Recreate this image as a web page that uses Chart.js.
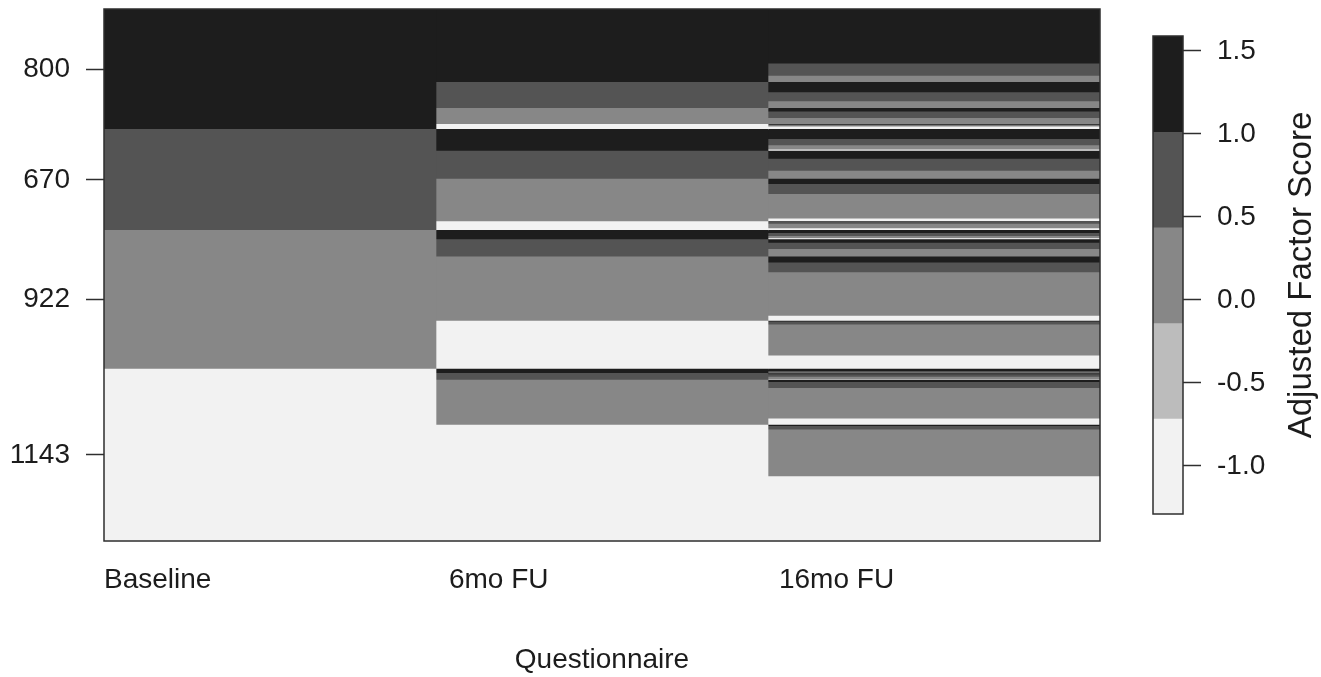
<!DOCTYPE html>
<html>
<head>
<meta charset="utf-8">
<title>Adjusted factor score by questionnaire</title>
<script src="https://cdn.jsdelivr.net/npm/chart.js@4.4.1/dist/chart.umd.min.js"></script>
<style>
  html, body { margin: 0; padding: 0; background: #ffffff; }
  #wrap { position: relative; width: 1321px; height: 677px; overflow: hidden; }
  #heat { position: absolute; left: 0; top: 0; }
  #key { position: absolute; left: 1110px; top: 0; }
</style>
</head>
<body>
<div id="wrap">
  <canvas id="heat" width="1321" height="677"></canvas>
  <canvas id="key" width="211" height="677"></canvas>
</div>
<script>
// Questionnaire waves, one column each
const questionnaires = ['Baseline', '6mo FU', '16mo FU'];

// Representative adjusted factor score of the four response levels (highest first)
const levelScores = [1.30, 0.72, 0.15, -1.00];

// Colour key: interval breaks of the score and the grey used for each interval (low to high)
const scoreBreaks = [-1.29, -0.714, -0.138, 0.438, 1.014, 1.59];
const scoreGreys = ['#f2f2f2', '#bcbcbc', '#878787', '#545454', '#1d1d1d'];
const keyTicks = [-1.0, -0.5, 0.0, 0.5, 1.0, 1.5];

// Participants in each baseline level (also the y tick labels)
const baselineCounts = [800, 670, 922, 1143];

// Each baseline group split by its 6-month level (highest level first)
const sixMonthCounts = [
  [487, 173, 107, 33],
  [144, 186, 283, 57],
  [62, 114, 427, 319],
  [30, 43, 299, 771]
];

// Each 6-month subgroup split by its 16-month level (highest level first)
const sixteenMonthCounts = [
  [365, 80, 42, 0],
  [69, 60, 44, 0],
  [23, 44, 40, 0],
  [3, 5, 8, 17],
  [66, 42, 28, 8],
  [53, 80, 53, 0],
  [35, 66, 164, 18],
  [4, 12, 30, 11],
  [20, 20, 15, 7],
  [23, 42, 49, 0],
  [40, 66, 288, 33],
  [5, 20, 206, 88],
  [17, 8, 5, 0],
  [7, 17, 16, 3],
  [17, 38, 204, 40],
  [10, 23, 310, 428]
];

const FONT = '"Liberation Sans", Arial, Helvetica, sans-serif';
const INK = '#1c1c1c';
const LINE = '#2e2e2e';

function greyFor(score) {
  for (let i = 0; i < scoreGreys.length; i++) {
    if (score <= scoreBreaks[i + 1]) return scoreGreys[i];
  }
  return scoreGreys[scoreGreys.length - 1];
}

// Turn a list of [count, level] pieces into stacked floating bars for one column
function columnBars(column, pieces) {
  const bars = [];
  let start = 0;
  pieces.forEach(([count, level]) => {
    if (count > 0) {
      bars.push({ x: column + 0.5, y: [start, start + count], score: levelScores[level] });
    }
    start += count;
  });
  return bars;
}

const baselinePieces = baselineCounts.map((n, level) => [n, level]);
const sixMonthPieces = sixMonthCounts.flatMap(group => group.map((n, level) => [n, level]));
const sixteenMonthPieces = sixteenMonthCounts.flatMap(group => group.map((n, level) => [n, level]));
const columns = [
  columnBars(0, baselinePieces),
  columnBars(1, sixMonthPieces),
  columnBars(2, sixteenMonthPieces)
];

const participants = baselineCounts.reduce((a, b) => a + b, 0);
const baselineMidpoints = [];
baselineCounts.reduce((start, n) => { baselineMidpoints.push(start + n / 2); return start + n; }, 0);

// Outline drawn round the plotting area
const framePlugin = {
  id: 'frame',
  afterDatasetsDraw(chart, args, opts) {
    const { ctx, chartArea: a } = chart;
    ctx.save();
    ctx.strokeStyle = opts.color || LINE;
    ctx.lineWidth = opts.width || 1.5;
    ctx.strokeRect(a.left, a.top, a.right - a.left, a.bottom - a.top);
    ctx.restore();
  }
};

// Vertical caption read bottom-to-top beside the colour key
const sideCaptionPlugin = {
  id: 'sideCaption',
  afterDraw(chart, args, opts) {
    const { ctx, chartArea: a } = chart;
    ctx.save();
    ctx.translate(opts.x, (a.top + a.bottom) / 2);
    ctx.rotate(-Math.PI / 2);
    ctx.font = `${opts.size}px ${FONT}`;
    ctx.fillStyle = INK;
    ctx.textAlign = 'center';
    ctx.textBaseline = 'middle';
    ctx.fillText(opts.text, 0, 0);
    ctx.restore();
  }
};

// Where each questionnaire name starts along the column axis
const labelAnchors = [0.0, 1.039, 2.033];

new Chart(document.getElementById('heat'), {
  type: 'bar',
  data: {
    datasets: questionnaires.map((name, i) => ({
      label: name,
      data: columns[i],
      grouped: false,
      barPercentage: 1,
      categoryPercentage: 1,
      borderWidth: 0,
      backgroundColor: c => greyFor(c.raw.score)
    }))
  },
  options: {
    responsive: false,
    animation: false,
    events: [],
    layout: { padding: { top: 9, right: 221, left: 0, bottom: 0 } },
    plugins: {
      legend: { display: false },
      tooltip: { enabled: false },
      frame: { color: LINE, width: 1.5 }
    },
    scales: {
      x: {
        type: 'linear',
        offset: false,
        min: 0,
        max: questionnaires.length,
        display: false,
        ticks: { stepSize: 1 }
      },
      xl: {
        type: 'linear',
        offset: false,
        position: 'bottom',
        min: 0,
        max: questionnaires.length,
        afterBuildTicks: s => { s.ticks = labelAnchors.map(v => ({ value: v })); },
        grid: { display: false, offset: false },
        border: { display: false },
        ticks: {
          align: 'start',
          autoSkip: false,
          maxRotation: 0,
          padding: 14,
          color: INK,
          font: { family: FONT, size: 28 },
          callback: (v, i) => questionnaires[i]
        },
        title: {
          display: true,
          text: 'Questionnaire',
          color: INK,
          font: { family: FONT, size: 28 },
          padding: { top: 0, bottom: 0 }
        },
        afterFit: s => { s.height = 136; s.paddingLeft = 0; s.paddingRight = 0; }
      },
      y: {
        type: 'linear',
        reverse: true,
        min: 0,
        max: participants,
        afterBuildTicks: s => { s.ticks = baselineMidpoints.map(v => ({ value: v })); },
        grid: { drawOnChartArea: false, drawTicks: true, tickLength: 18, tickColor: LINE, tickWidth: 1.5 },
        border: { display: false },
        ticks: {
          autoSkip: false,
          padding: 16,
          color: INK,
          font: { family: FONT, size: 28 },
          callback: (v, i) => String(baselineCounts[i])
        },
        afterFit: s => { s.width = 104; s.paddingTop = 0; s.paddingBottom = 0; }
      }
    }
  },
  plugins: [framePlugin]
});

// Colour key for the adjusted factor score
new Chart(document.getElementById('key'), {
  type: 'bar',
  data: {
    datasets: [{
      label: 'Adjusted Factor Score',
      data: scoreGreys.map((g, i) => ({ x: 0.5, y: [scoreBreaks[i], scoreBreaks[i + 1]] })),
      backgroundColor: scoreGreys,
      grouped: false,
      barPercentage: 1,
      categoryPercentage: 1,
      borderWidth: 0
    }]
  },
  options: {
    responsive: false,
    animation: false,
    events: [],
    layout: { padding: { top: 36, right: 0, left: 43, bottom: 163 } },
    plugins: {
      legend: { display: false },
      tooltip: { enabled: false },
      frame: { color: LINE, width: 1.5 },
      sideCaption: { text: 'Adjusted Factor Score', size: 33, x: 192 }
    },
    scales: {
      x: { type: 'linear', offset: false, min: 0, max: 1, display: false, ticks: { stepSize: 1 } },
      y: {
        type: 'linear',
        position: 'right',
        min: scoreBreaks[0],
        max: scoreBreaks[scoreBreaks.length - 1],
        afterBuildTicks: s => { s.ticks = keyTicks.map(v => ({ value: v })); },
        grid: { drawOnChartArea: false, drawTicks: true, tickLength: 18, tickColor: LINE, tickWidth: 1.5 },
        border: { display: false },
        ticks: {
          autoSkip: false,
          padding: 16,
          color: INK,
          font: { family: FONT, size: 28 },
          callback: v => v.toFixed(1)
        },
        afterFit: s => { s.width = 138; s.paddingTop = 0; s.paddingBottom = 0; }
      }
    }
  },
  plugins: [framePlugin, sideCaptionPlugin]
});
</script>
</body>
</html>
